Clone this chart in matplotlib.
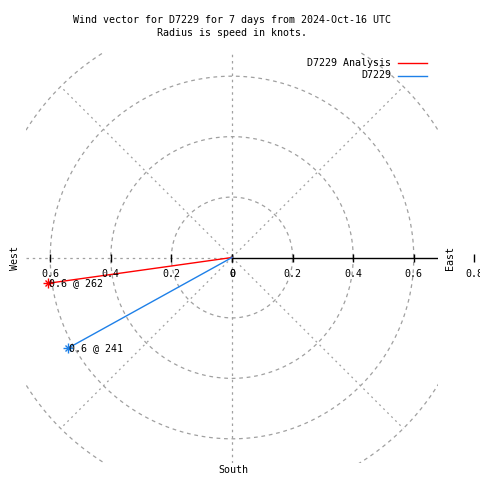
import matplotlib
matplotlib.use("Agg")
import matplotlib.pyplot as plt
import numpy as np

# Data: wind vectors (speed in knots, direction in degrees from north)
series = ["D7229 Analysis", "D7229"]
speeds = [0.615, 0.62]
directions = [262, 241]
colors = ["#ff0000", "#1e80e8"]

rings = [0.2, 0.4, 0.6, 0.8]
spokes = [45, 135, 225, 315]
west_ticks = [-0.6, -0.4, -0.2, 0.0]
east_ticks = [0.0, 0.2, 0.4, 0.6, 0.8]

plt.rcParams["font.family"] = "DejaVu Sans Mono"
plt.rcParams["font.size"] = 7.2

W = H = 480
fig = plt.figure(figsize=(4.8, 4.8), dpi=100)
# plot area in pixels: x 26..438, y 52..463
ax = fig.add_axes([26 / W, (H - 463) / H, 412 / W, 411 / H])
lim = 0.68
ax.set_xlim(-lim, lim)
ax.set_ylim(-lim, lim)
ax.axis("off")

grid = "#a0a0a0"
t = np.linspace(0, 2 * np.pi, 400)
for r in rings:
    ax.plot(r * np.cos(t), r * np.sin(t), color=grid, lw=0.9, ls=(0, (3, 3)))
for a in spokes:
    ang = np.radians(a)
    ax.plot([0, 0.8 * np.cos(ang)], [0, 0.8 * np.sin(ang)], color=grid, lw=0.9, ls=(0, (1.5, 3)))
ax.plot([0, 0], [-lim, lim], color=grid, lw=0.9, ls=(0, (2, 3)))
ax.plot([-lim, 0], [0, 0], color=grid, lw=0.9, ls=(0, (2, 3)))

# east axis line with ticks
ax.plot([0, lim], [0, 0], color="black", lw=1.0)
ax.plot(west_ticks + east_ticks, [0] * (len(west_ticks) + len(east_ticks)),
        ls="none", marker="|", ms=6, color="black", mew=1.0, clip_on=False)
for x in west_ticks + east_ticks:
    lab = "0" if x == 0 else "%.1f" % abs(x)
    ax.text(x, -0.056, lab, ha="center", va="center", clip_on=False)

# wind vectors
for name, s, d, c in zip(series, speeds, directions, colors):
    x = s * np.sin(np.radians(d))
    y = s * np.cos(np.radians(d))
    ax.plot([0, x], [0, y], color=c, lw=1.0, label=name)
    ax.plot([x], [y], ls="none", marker="+", ms=7, mew=1.0, color=c)
    ax.plot([x], [y], ls="none", marker="x", ms=5, mew=1.0, color=c)
    ax.text(x + 0.005, y, "%.1f @ %d" % (s, d), ha="left", va="center")

# legend drawn manually in figure pixels
for i, (name, c) in enumerate(zip(series, colors)):
    yp = 63 + i * 12.5
    fig.text(391 / W, 1 - yp / H, name, ha="right", va="center")
    fig.add_artist(plt.Line2D([398 / W, 427 / W], [1 - yp / H, 1 - yp / H], color=c, lw=1.0))

fig.text(232 / W, 1 - 20 / H, "Wind vector for D7229 for 7 days from 2024-Oct-16 UTC", ha="center", va="center")
fig.text(232 / W, 1 - 33 / H, "Radius is speed in knots.", ha="center", va="center")
fig.text(15 / W, 1 - 258 / H, "West", rotation=90, ha="center", va="center")
fig.text(450 / W, 1 - 258 / H, "East", rotation=90, ha="center", va="center")
fig.text(233 / W, 1 - 470 / H, "South", ha="center", va="center")

fig.savefig("out.png", dpi=100, facecolor="white")
